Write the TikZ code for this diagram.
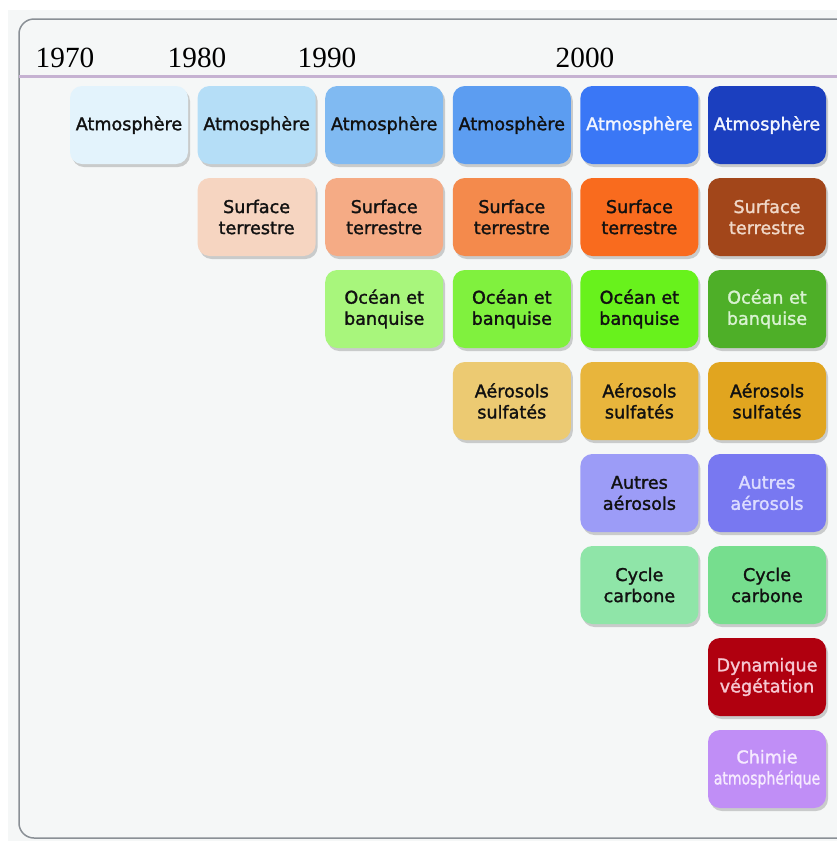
\documentclass[tikz,border=0pt]{standalone}
\usepackage{fontspec}
\setmainfont{Liberation Serif}
\newfontfamily\boxfont[BoldFont={DejaVu Sans}, BoldFeatures={FakeBold=1.6}]{DejaVu Sans}
\usepackage{tikz}
\usetikzlibrary{shadows}

\definecolor{panel}{HTML}{F5F7F7}
\definecolor{framegray}{HTML}{8A9096}
\definecolor{rulelav}{HTML}{C6B2D2}
\definecolor{ink}{HTML}{111111}
% blues
\definecolor{atmA}{HTML}{E3F3FC}
\definecolor{atmB}{HTML}{B5DEF7}
\definecolor{atmC}{HTML}{80BAF2}
\definecolor{atmD}{HTML}{5C9DF1}
\definecolor{atmE}{HTML}{3A77F6}
\definecolor{atmF}{HTML}{1B3FBF}
% oranges
\definecolor{surfB}{HTML}{F6D5C1}
\definecolor{surfC}{HTML}{F5AB85}
\definecolor{surfD}{HTML}{F48A4C}
\definecolor{surfE}{HTML}{F96B1E}
\definecolor{surfF}{HTML}{A2461A}
% greens
\definecolor{oceC}{HTML}{A8F67C}
\definecolor{oceD}{HTML}{80F13E}
\definecolor{oceE}{HTML}{68F21C}
\definecolor{oceF}{HTML}{4EAF28}
% yellows
\definecolor{aerD}{HTML}{ECCA72}
\definecolor{aerE}{HTML}{E8B53C}
\definecolor{aerF}{HTML}{E1A51F}
% others
\definecolor{autE}{HTML}{9C9CF7}
\definecolor{autF}{HTML}{7878F1}
\definecolor{cycE}{HTML}{8FE5A8}
\definecolor{cycF}{HTML}{76DE8E}
\definecolor{dynF}{HTML}{B0000F}
\definecolor{chiF}{HTML}{C08EF6}
% light texts
\definecolor{txtA}{HTML}{F2F5FF}
\definecolor{txtS}{HTML}{F0D8C8}
\definecolor{txtO}{HTML}{D8F2D0}
\definecolor{txtU}{HTML}{DCDCFF}
\definecolor{txtD}{HTML}{F6C8D2}
\definecolor{txtC}{HTML}{F6EAFF}

\begin{document}
\begin{tikzpicture}[
        x=0.3mm, y=-0.3mm,
        year/.style={font=\fontsize{25}{27}\selectfont, anchor=base},
        block/.style={rounded corners=3.6mm, minimum width=35.4mm,
                      minimum height=23.4mm, inner sep=0pt, align=center,
                      font=\boxfont\bfseries\fontsize{15}{18}\selectfont,
                      drop shadow={shadow xshift=0.6mm, shadow yshift=-0.9mm,
                                   opacity=0.3, fill=black!60}},
    ]
    \fill[white] (0,0) rectangle (837,841);
    \useasboundingbox (0,0) rectangle (837,841);
    \fill[panel] (8,10) rectangle (837,841);
    \draw[framegray, line width=0.45mm, rounded corners=4.5mm] (19,19) rectangle (852,838);

    % time axis
    \draw[rulelav, line width=0.9mm] (19,76) -- (837,76);
    \node[year] (y1970) at (65,67) {1970};
    \node[year] (y1980) at (197,67) {1980};
    \node[year] (y1990) at (327,67) {1990};
    \node[year] (y2000) at (585,67) {2000};

    % components, column by column
    \foreach \name/\c/\r/\bg/\fg/\txt in {
            atm1/1/1/atmA/ink/Atmosphère,
            atm2/2/1/atmB/ink/Atmosphère,
            atm3/3/1/atmC/ink/Atmosphère,
            atm4/4/1/atmD/ink/Atmosphère,
            atm5/5/1/atmE/txtA/Atmosphère,
            atm6/6/1/atmF/txtA/Atmosphère,
            surf2/2/2/surfB/ink/{Surface\\terrestre},
            surf3/3/2/surfC/ink/{Surface\\terrestre},
            surf4/4/2/surfD/ink/{Surface\\terrestre},
            surf5/5/2/surfE/ink/{Surface\\terrestre},
            surf6/6/2/surfF/txtS/{Surface\\terrestre},
            ocean3/3/3/oceC/ink/{Océan et\\banquise},
            ocean4/4/3/oceD/ink/{Océan et\\banquise},
            ocean5/5/3/oceE/ink/{Océan et\\banquise},
            ocean6/6/3/oceF/txtO/{Océan et\\banquise},
            sulf4/4/4/aerD/ink/{Aérosols\\sulfatés},
            sulf5/5/4/aerE/ink/{Aérosols\\sulfatés},
            sulf6/6/4/aerF/ink/{Aérosols\\sulfatés},
            aut5/5/5/autE/ink/{Autres\\aérosols},
            aut6/6/5/autF/txtU/{Autres\\aérosols},
            carb5/5/6/cycE/ink/{Cycle\\carbone},
            carb6/6/6/cycF/ink/{Cycle\\carbone},
            veg6/6/7/dynF/txtD/{Dynamique\\végétation},
            chim6/6/8/chiF/txtC/{Chimie\\\scalebox{0.8}[1]{atmosphérique}}}
        \node[block, fill=\bg, text=\fg] (\name)
            at ({129+127.6*(\c-1)}, {125+92*(\r-1)}) {\txt};

\end{tikzpicture}
\end{document}
